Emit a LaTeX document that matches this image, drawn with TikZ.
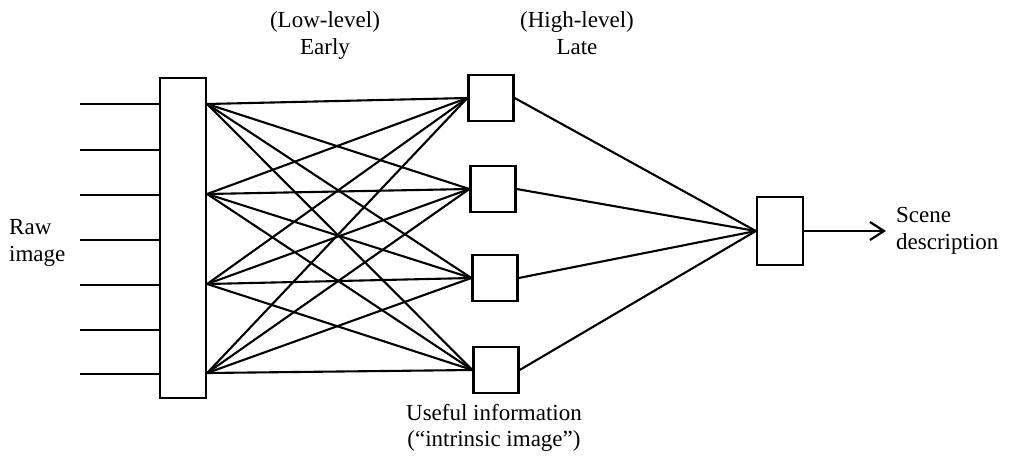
\documentclass[tikz,border=0pt]{standalone}
\usepackage{fontspec}
\setmainfont{Liberation Serif}
\usetikzlibrary{arrows.meta}
\begin{document}
\begin{tikzpicture}[x=1pt,y=-1pt,
  wire/.style={line width=2.1pt},
  box/.style={draw,line width=2.3pt,inner sep=0pt,fill=white},
  lbl/.style={inner sep=0pt,anchor=base,font=\fontsize{23}{27}\selectfont},
  lbll/.style={lbl,anchor=base west}]
\useasboundingbox (0,0) rectangle (1018,461);
% tall input layer box
\node[box,minimum width=46pt,minimum height=320pt] (L) at (183,238) {};
% input lines
\foreach \i/\y in {1/104,2/150,3/195,4/240,5/285,6/330,7/374}{
  \coordinate (in\i) at (80,\y);
  \coordinate (li\i) at (L.west |- in\i);
  \draw[wire] (in\i) -- (li\i);
}
% fan-out points on right edge
\foreach \j/\y in {1/104,2/194,3/284,4/373}{
  \coordinate (f\j) at (L.east |- 0,\y);
}
% intermediate boxes
\node[box,minimum width=45pt,minimum height=46pt] (b1) at (491,98) {};
\node[box,minimum width=45pt,minimum height=46pt] (b2) at (493,189) {};
\node[box,minimum width=45pt,minimum height=46pt] (b3) at (495,278) {};
\node[box,minimum width=45pt,minimum height=46pt] (b4) at (496,370) {};
\foreach \j in {1,...,4}{
  \foreach \k in {1,...,4}{
    \draw[wire] (f\j) -- (b\k.west);
  }
}
% output box
\node[box,minimum width=46pt,minimum height=68pt] (o) at (780,231) {};
\foreach \k in {1,...,4}{
  \draw[wire] (b\k.east) -- (o.west);
}
\coordinate (arr) at (886,231);
\draw[wire,-{Straight Barb[length=14pt,width=18pt,line width=2.2pt]}] (o.east) -- (arr);
% labels
\node[lbl] (t1) at (325,27) {(Low-level)};
\node[lbl] (t2) at (325,54) {Early};
\node[lbl] (t3) at (577,27) {(High-level)};
\node[lbl] (t4) at (577,54) {Late};
\node[lbll] (t5) at (9,234) {Raw};
\node[lbll] (t6) at (9,261) {image};
\node[lbll] (t7) at (896,222) {Scene};
\node[lbll] (t8) at (896,249) {description};
\node[lbl] (t9) at (494,420) {Useful information};
\node[lbl] (t10) at (494,446) {(“intrinsic image”)};
\end{tikzpicture}
\end{document}
